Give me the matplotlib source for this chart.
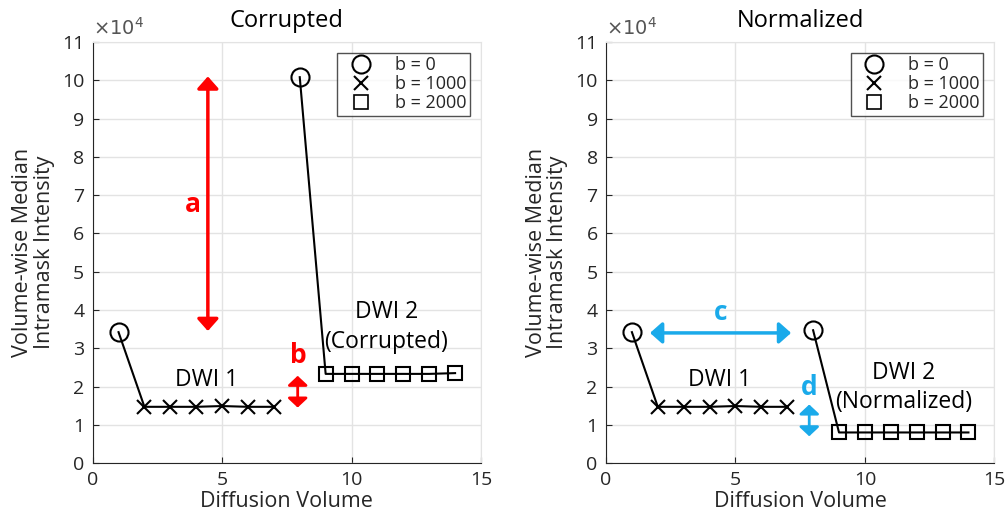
import matplotlib
matplotlib.use('Agg')
import matplotlib.pyplot as plt
from matplotlib.lines import Line2D

plt.rcParams['font.family'] = ['Open Sans', 'DejaVu Sans']
plt.rcParams['mathtext.fontset'] = 'dejavusans'

# diffusion volume index, intensities in units of 1e4
vol_dwi1 = [1, 2, 3, 4, 5, 6, 7]
vol_dwi2 = [8, 9, 10, 11, 12, 13, 14]
corr_dwi1 = [3.42, 1.47, 1.47, 1.47, 1.49, 1.47, 1.47]
corr_dwi2 = [10.08, 2.33, 2.33, 2.33, 2.33, 2.33, 2.35]
norm_dwi1 = [3.42, 1.47, 1.47, 1.47, 1.49, 1.47, 1.47]
norm_dwi2 = [3.47, 0.80, 0.80, 0.80, 0.80, 0.80, 0.80]
bvals = [0, 1000, 1000, 1000, 1000, 1000, 1000]
legend_labels = ['b = 0', 'b = 1000', 'b = 2000']

RED = '#ff0000'
BLUE = '#1aaaea'
DARK = '#262626'

fig = plt.figure(figsize=(10.06, 5.18), dpi=100)
ax1 = fig.add_axes([0.0921, 0.106, 0.386, 0.813])
ax2 = fig.add_axes([0.6024, 0.106, 0.386, 0.813])


def draw_series(ax, x, y, last_marker):
    ax.plot(x, y, color='black', lw=1.5, zorder=3)
    for i in range(len(x)):
        m = 'o' if bvals[i] == 0 else last_marker
        ms = 13 if m == 'o' else 10
        ax.plot(x[i], y[i], marker=m, ms=ms, mfc='none', mec='black',
                mew=1.5, zorder=4)


def style(ax, title):
    ax.set_xlim(0, 15)
    ax.set_ylim(0, 11)
    ax.set_xticks([0, 5, 10, 15])
    ax.set_yticks(range(0, 12))
    ax.grid(True, color='#e3e3e3', lw=1)
    ax.set_axisbelow(True)
    for s in ['top', 'right']:
        ax.spines[s].set_color('#e3e3e3')
    for s in ['left', 'bottom']:
        ax.spines[s].set_color(DARK)
    ax.tick_params(direction='in', length=4, labelsize=14, colors=DARK,
                   labelcolor=DARK, pad=6)
    ax.set_xlabel('Diffusion Volume', fontsize=15.5, color=DARK, labelpad=1)
    ax.set_ylabel('Volume-wise Median\nIntramask Intensity', fontsize=15.5,
                  color=DARK, labelpad=5, linespacing=1.05)
    ax.set_title(title, fontsize=17, pad=11)
    ax.text(0.0, 1.008, r'$\times10^4$', transform=ax.transAxes,
            fontsize=14, color='#555555', ha='left', va='bottom')
    handles = [Line2D([], [], ls='none', marker='o', ms=13, mfc='none', mec='black', mew=1.5),
               Line2D([], [], ls='none', marker='x', ms=10, mec='black', mew=1.5),
               Line2D([], [], ls='none', marker='s', ms=10, mfc='none', mec='black', mew=1.2)]
    leg = ax.legend(handles, legend_labels, loc='upper right', fontsize=13,
                    frameon=True, fancybox=False, edgecolor=DARK,
                    borderaxespad=0.6, handletextpad=0.8, labelspacing=0.05,
                    borderpad=0.2, handlelength=2.2)
    leg.get_frame().set_linewidth(1.0)
    for t in leg.get_texts():
        t.set_color(DARK)


def arrow(ax, p0, p1, color, small=False):
    if small:
        style_ = '<|-|>,head_length=0.28,head_width=0.3'
        lw = 2
    else:
        style_ = '<|-|>,head_length=0.36,head_width=0.32'
        lw = 2.5
    ax.annotate('', xy=p1, xytext=p0,
                arrowprops=dict(arrowstyle=style_, color=color, lw=lw,
                                mutation_scale=20, shrinkA=0, shrinkB=0))


# left: corrupted
draw_series(ax1, vol_dwi1, corr_dwi1, 'x')
draw_series(ax1, vol_dwi2, corr_dwi2, 's')
style(ax1, 'Corrupted')
arrow(ax1, (4.45, 3.45), (4.45, 10.1), RED)
ax1.text(3.87, 6.75, 'a', color=RED, fontsize=19, fontweight='bold',
         ha='center', va='center')
arrow(ax1, (7.92, 1.45), (7.92, 2.28), RED, small=True)
ax1.text(7.93, 2.8, 'b', color=RED, fontsize=19, fontweight='bold',
         ha='center', va='center')
ax1.text(4.4, 2.17, 'DWI 1', fontsize=16.5, ha='center', va='center')
ax1.text(11.35, 3.55, 'DWI 2\n(Corrupted)', fontsize=16.5, ha='center',
         va='center', linespacing=1.3)

# right: normalized
draw_series(ax2, vol_dwi1, norm_dwi1, 'x')
draw_series(ax2, vol_dwi2, norm_dwi2, 's')
style(ax2, 'Normalized')
arrow(ax2, (1.7, 3.4), (7.15, 3.4), BLUE)
ax2.text(4.43, 3.93, 'c', color=BLUE, fontsize=19, fontweight='bold',
         ha='center', va='center')
arrow(ax2, (7.85, 0.7), (7.85, 1.53), BLUE, small=True)
ax2.text(7.85, 1.97, 'd', color=BLUE, fontsize=19, fontweight='bold',
         ha='center', va='center')
ax2.text(4.4, 2.17, 'DWI 1', fontsize=16.5, ha='center', va='center')
ax2.text(11.5, 1.98, 'DWI 2\n(Normalized)', fontsize=16.5, ha='center',
         va='center', linespacing=1.3)

fig.savefig('out.png', dpi=100)
